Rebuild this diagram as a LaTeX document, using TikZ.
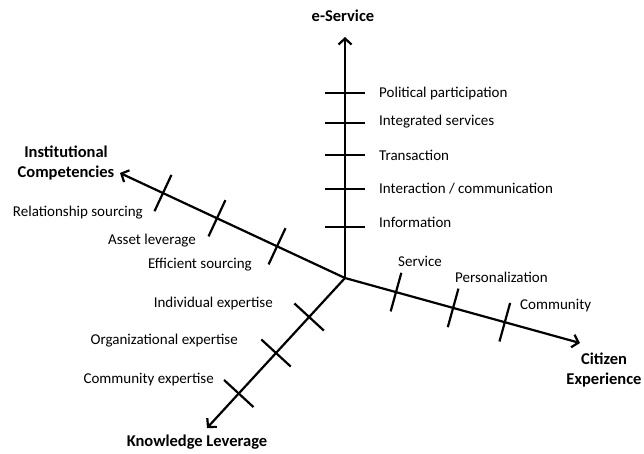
\documentclass[tikz,border=0pt]{standalone}
\usepackage{fontspec}
\setmainfont{Carlito}
\usetikzlibrary{arrows.meta, calc}

\begin{document}
\begin{tikzpicture} [
    x=1pt, y=-1pt,
    axis/.style = {line width=2.2pt, -{Straight Barb[length=6pt,width=13pt,line width=2.2pt]}},
    tick/.style = {line width=2.2pt},
    lbl/.style = {inner sep=0pt, font=\fontsize{15}{18}\selectfont},
    title/.style = {inner sep=0pt, align=center, font=\fontsize{16.5}{20}\selectfont\bfseries}]
    % \draw [help lines] (0,0) grid (644,453);
    \useasboundingbox (0,0) rectangle (644,453);
    \coordinate (o) at (345,278);
    \coordinate (es) at (345,37);
    \coordinate (ic) at (120,173);
    \coordinate (kl) at (207,428);
    \coordinate (ce) at (580,343);

    % axes
    \draw [axis] (o) -- (es);
    \draw [axis] (o) -- (ic);
    \draw [axis] (o) -- (kl);
    \draw [axis] (o) -- (ce);

    % tick positions
    \path (o) -- (es)
        coordinate [pos=0.212] (es1)
        coordinate [pos=0.369] (es2)
        coordinate [pos=0.510] (es3)
        coordinate [pos=0.643] (es4)
        coordinate [pos=0.768] (es5);
    \path (o) -- (ic)
        coordinate [pos=0.302] (ic1)
        coordinate [pos=0.569] (ic2)
        coordinate [pos=0.809] (ic3);
    \path (o) -- (kl)
        coordinate [pos=0.26] (kl1)
        coordinate [pos=0.50] (kl2)
        coordinate [pos=0.77] (kl3);
    \path (o) -- (ce)
        coordinate [pos=0.217] (ce1)
        coordinate [pos=0.46] (ce2)
        coordinate [pos=0.68] (ce3);

    % ticks
    \foreach \t in {es1,es2,es3,es4,es5,ic1,ic2,ic3,kl1,kl2,kl3,ce1,ce2,ce3}
        \draw [tick] ($(\t)!20pt!90:(o)$) -- ($(\t)!20pt!-90:(o)$);

    % axis titles
    \node (tes) [title] at (343,16) {e-Service};
    \node (tic) [title] at (66,163) {Institutional\\Competencies};
    \node (tkl) [title] at (197,442) {Knowledge Leverage};
    \node (tce) [title] at (604,370) {Citizen\\Experience};

    % e-Service levels
    \node (les1) [lbl, anchor=west] at (379,222) {Information};
    \node (les2) [lbl, anchor=west] at (379,189) {Interaction / communication};
    \node (les3) [lbl, anchor=west] at (379,155) {Transaction};
    \node (les4) [lbl, anchor=west] at (379,122) {Integrated services};
    \node (les5) [lbl, anchor=west] at (379,93) {Political participation};

    % institutional competencies
    \node (lic1) [lbl, anchor=east] at (252,265) {Efficient sourcing};
    \node (lic2) [lbl, anchor=east] at (196,241) {Asset leverage};
    \node (lic3) [lbl, anchor=east] at (143,213) {Relationship sourcing};

    % knowledge leverage
    \node (lkl1) [lbl, anchor=east] at (273,303) {Individual expertise};
    \node (lkl2) [lbl, anchor=east] at (238,341) {Organizational expertise};
    \node (lkl3) [lbl, anchor=east] at (214,380) {Community expertise};

    % citizen experience
    \node (lce1) [lbl, anchor=west] at (398,261) {Service};
    \node (lce2) [lbl, anchor=west] at (455,277) {Personalization};
    \node (lce3) [lbl, anchor=west] at (520,306) {Community};
\end{tikzpicture}
\end{document}
